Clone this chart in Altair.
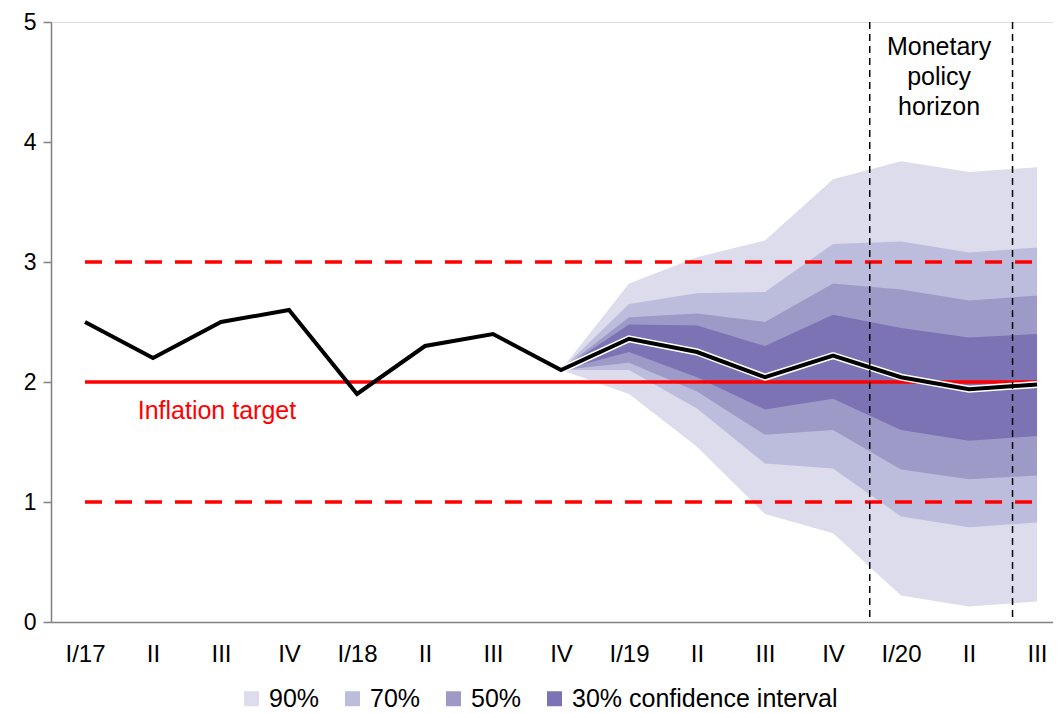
import altair as alt
import pandas as pd

# ---- data ----
quarters = ["I/17", "II", "III", "IV", "I/18", "II", "III", "IV",
            "I/19", "II", "III", "IV", "I/20", "II", "III"]
inflation = [2.5, 2.2, 2.5, 2.6, 1.9, 2.3, 2.4, 2.1,
             2.36, 2.25, 2.04, 2.22, 2.04, 1.94, 1.98]
fan_start = 7  # IV/18
hi90 = [2.1, 2.82, 3.04, 3.18, 3.69, 3.84, 3.75, 3.79]
hi70 = [2.1, 2.65, 2.74, 2.75, 3.15, 3.17, 3.08, 3.12]
hi50 = [2.1, 2.54, 2.57, 2.50, 2.82, 2.77, 2.68, 2.72]
hi30 = [2.1, 2.48, 2.47, 2.30, 2.56, 2.45, 2.37, 2.40]
lo30 = [2.1, 2.25, 2.04, 1.77, 1.86, 1.60, 1.51, 1.55]
lo50 = [2.1, 2.16, 1.92, 1.56, 1.60, 1.27, 1.19, 1.22]
lo70 = [2.1, 2.10, 1.78, 1.32, 1.28, 0.88, 0.79, 0.83]
lo90 = [2.1, 1.90, 1.46, 0.90, 0.74, 0.22, 0.13, 0.17]
band_names = ["90%", "70%", "50%", "30% confidence interval"]
band_colors = ["#dcdcec", "#bcbddc", "#9e9ac8", "#7b73b4"]
target = 2.0
tolerance = [1.0, 3.0]
horizon_bounds = [11.54, 13.64]
y_ticks = [0, 1, 2, 3, 4, 5]

FONT = "Liberation Sans"
n = len(quarters)

label_expr = "[" + ",".join("'%s'" % q for q in quarters) + "][datum.value]"

xscale = alt.Scale(domain=[-0.5, 14.235], nice=False, zero=False)
yscale = alt.Scale(domain=[0, 5], nice=False, zero=False)

xaxis = alt.Axis(values=list(range(n)), labelExpr=label_expr, ticks=False, tickSize=0,
                 grid=False, domainColor="#808080", domainWidth=1.5,
                 labelFontSize=24, labelFont=FONT, labelColor="black",
                 labelPadding=20, labelFlush=False, labelOverlap=False, title=None)
yaxis = alt.Axis(values=y_ticks, grid=False, tickSize=8, tickColor="#808080",
                 domainColor="#808080", domainWidth=1.5, tickWidth=1.5,
                 labelFontSize=23, labelFont=FONT, labelColor="black",
                 labelPadding=7, title=None)

legend = alt.Legend(title=None, orient="none", legendX=188, legendY=664,
                    direction="horizontal", symbolType="square", symbolSize=225,
                    symbolStrokeWidth=0, labelFontSize=25, labelFont=FONT,
                    labelColor="black", labelOffset=5, columnPadding=20,
                    labelLimit=400, symbolOpacity=1)
color = alt.Color("band:N", scale=alt.Scale(domain=band_names, range=band_colors),
                  legend=legend)

fan_idx = list(range(fan_start, n))
bands = [(band_names[0], lo90, hi90), (band_names[1], lo70, hi70),
         (band_names[2], lo50, hi50), (band_names[3], lo30, hi30)]

layers = []
for name, lo, hi in bands:
    df = pd.DataFrame({"i": fan_idx, "lo": lo, "hi": hi, "band": name})
    layers.append(
        alt.Chart(df).mark_area(opacity=1, interpolate="linear").encode(
            x=alt.X("i:Q", scale=xscale, axis=xaxis),
            y=alt.Y("lo:Q", scale=yscale, axis=yaxis),
            y2="hi:Q",
            color=color,
        )
    )

# red target and tolerance band lines
target_df = pd.DataFrame({"x0": [0], "x1": [n - 1], "v": [target]})
tol_df = pd.DataFrame({"x0": [0, 0], "x1": [n - 1, n - 1], "v": tolerance})
layers.append(
    alt.Chart(tol_df).mark_rule(color="#ff0000", strokeWidth=3.5, strokeDash=[17, 13]).encode(
        x=alt.X("x0:Q", scale=xscale, axis=xaxis), x2="x1:Q",
        y=alt.Y("v:Q", scale=yscale, axis=yaxis))
)
layers.append(
    alt.Chart(target_df).mark_rule(color="#ff0000", strokeWidth=3.5).encode(
        x=alt.X("x0:Q", scale=xscale, axis=xaxis), x2="x1:Q",
        y=alt.Y("v:Q", scale=yscale, axis=yaxis))
)

# inflation line (white halo for forecast part)
line_df = pd.DataFrame({"i": list(range(n)), "v": inflation})
fc_df = line_df[line_df["i"] >= fan_start]
layers.append(
    alt.Chart(fc_df).mark_line(color="white", strokeWidth=7).encode(
        x=alt.X("i:Q", scale=xscale, axis=xaxis),
        y=alt.Y("v:Q", scale=yscale, axis=yaxis))
)
layers.append(
    alt.Chart(line_df).mark_line(color="black", strokeWidth=4).encode(
        x=alt.X("i:Q", scale=xscale, axis=xaxis),
        y=alt.Y("v:Q", scale=yscale, axis=yaxis))
)

# monetary policy horizon
hz_df = pd.DataFrame({"h": horizon_bounds})
layers.append(
    alt.Chart(hz_df).mark_rule(color="black", strokeWidth=1.5, strokeDash=[7, 5]).encode(
        x=alt.X("h:Q", scale=xscale, axis=xaxis))
)

# annotations
ann1 = pd.DataFrame({"x": [1.94], "y": [1.76], "t": ["Inflation target"]})
layers.append(
    alt.Chart(ann1).mark_text(font=FONT, fontSize=25, color="#ff0000",
                              align="center", baseline="middle").encode(
        x=alt.X("x:Q", scale=xscale, axis=xaxis),
        y=alt.Y("y:Q", scale=yscale, axis=yaxis), text="t:N")
)
ann2 = pd.DataFrame({"x": [12.56], "y": [4.79], "t": ["Monetary\npolicy\nhorizon"]})
layers.append(
    alt.Chart(ann2).mark_text(font=FONT, fontSize=25, color="black", align="center",
                              baseline="middle", lineBreak="\n", lineHeight=30).encode(
        x=alt.X("x:Q", scale=xscale, axis=xaxis),
        y=alt.Y("y:Q", scale=yscale, axis=yaxis), text="t:N")
)

chart = alt.layer(*layers).properties(
    width=1002, height=600,
    autosize=alt.AutoSizeParams(type="none"),
    padding={"left": 43, "top": 14, "right": 0, "bottom": 91},
).configure_view(stroke=None).configure(font=FONT, background="white")

chart.save("out.html", embed_options={"renderer": "svg", "actions": False})
